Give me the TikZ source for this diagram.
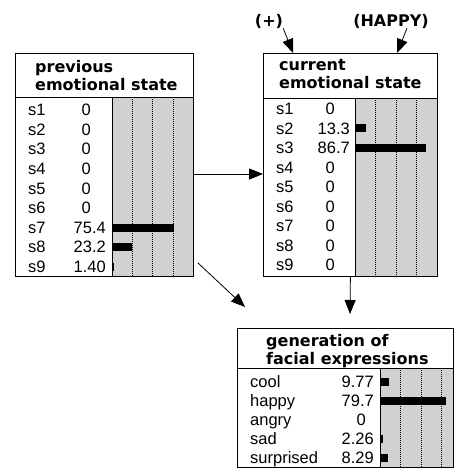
\documentclass[tikz,border=0pt]{standalone}
\usepackage{fontspec}
\setmainfont{Liberation Sans}
\newfontfamily\ttl{DejaVu Sans}
\usetikzlibrary{arrows.meta}
\begin{document}
\begin{tikzpicture}[x=1pt,y=-1pt,
  box/.style={draw, line width=0.8pt, fill=white, inner sep=0, anchor=north west},
  sep/.style={line width=0.8pt},
  grayarea/.style={fill=black!18, draw=black, line width=0.8pt},
  dot/.style={line width=0.5pt, dash pattern=on 1pt off 1pt},
  txt/.style={inner sep=0, text height=11.5pt, text depth=0pt, font=\fontsize{16.5}{16}\selectfont},
  ttltxt/.style={inner sep=0, anchor=base west, font=\ttl\bfseries\fontsize{16}{18}\selectfont},
  hdr/.style={inner sep=0, font=\ttl\bfseries\fontsize{16}{18}\selectfont},
  arr/.style={line width=0.8pt, -{Triangle[length=14pt,width=11pt]}},
  bar/.style={fill=black}
]
\useasboundingbox (0,0) rectangle (455,470);

% ---------- previous emotional state ----------
\node[box, minimum width=178pt, minimum height=223pt] (prev) at (15,53) {};
\draw[sep] (15,97) -- (193,97);
\filldraw[grayarea] (112,97) rectangle (193,276);
\foreach \xx in {132.25,152.5,172.75} \draw[dot] (\xx,97) -- (\xx,276);
\node[ttltxt] (pt1) at (35,73) {previous};
\node[ttltxt] (pt2) at (35,91) {emotional state};
\foreach \v/\p/\xe [count=\i] in {0/0/91,0/0/91,0/0/91,0/0/91,0/0/91,0/0/91,75.4/75.4/106,23.2/23.2/106,1.40/1.40/106}{
  \pgfmathsetmacro{\yy}{110+19.6*(\i-1)}
  \node[txt, anchor=west] (pl\i) at (28,\yy) {s\i};
  \node[txt, anchor=east] (pv\i) at (\xe,\yy) {\v};
  \pgfmathsetmacro{\ww}{max(\p*81/100,0)}
  \ifdim\ww pt>0pt \fill[bar] (112,\yy-4) rectangle ++(\ww+0.8,8); \fi
}

% ---------- current emotional state ----------
\node[box, minimum width=174pt, minimum height=223pt] (cur) at (263,53) {};
\draw[sep] (263,98) -- (437,98);
\filldraw[grayarea] (355,98) rectangle (437,276);
\foreach \xx in {375.5,396,416.5} \draw[dot] (\xx,98) -- (\xx,276);
\node[ttltxt] (ct1) at (279,71) {current};
\node[ttltxt] (ct2) at (279,89) {emotional state};
\foreach \v/\p/\xe [count=\i] in {0/0/335,13.3/13.3/350,86.7/86.7/350,0/0/335,0/0/335,0/0/335,0/0/335,0/0/335,0/0/335}{
  \pgfmathsetmacro{\yy}{109+19.5*(\i-1)}
  \node[txt, anchor=west] (cl\i) at (276,\yy) {s\i};
  \node[txt, anchor=east] (cv\i) at (\xe,\yy) {\v};
  \pgfmathsetmacro{\ww}{max(\p*82/100,0)}
  \ifdim\ww pt>0pt \fill[bar] (355,\yy-4) rectangle ++(\ww,8); \fi
}

% ---------- generation of facial expressions ----------
\node[box, minimum width=216pt, minimum height=139pt] (gen) at (237,328) {};
\draw[sep] (237,368) -- (453,368);
\filldraw[grayarea] (380,368) rectangle (453,467);
\foreach \xx in {400.5,421,441.5} \draw[dot] (\xx,368) -- (\xx,467);
\node[ttltxt] (gt1) at (266,346) {generation of};
\node[ttltxt] (gt2) at (266,364) {facial expressions};
\foreach \lab/\v/\p/\xe [count=\i] in {cool/9.77/9.77/374,happy/79.7/79.7/374,angry/0/0/366,sad/2.26/2.26/374,surprised/8.29/8.29/374}{
  \pgfmathsetmacro{\yy}{382+19*(\i-1)}
  \node[txt, anchor=west] (gl\i) at (250,\yy) {\lab};
  \node[txt, anchor=east] (gv\i) at (\xe,\yy) {\v};
  \pgfmathsetmacro{\ww}{max(\p*82/100,0)}
  \ifdim\ww pt>0pt \fill[bar] (380,\yy-4) rectangle ++(\ww+0.8,8); \fi
}

% ---------- evidence labels ----------
\node[hdr] (plus) at (269,21) {(+)};
\node[hdr] (happy) at (391,21) {(HAPPY)};
\coordinate (t1) at (293,53);
\coordinate (t2) at (397,53);
\draw[arr] (plus.south east) -- (t1);
\draw[arr] ([xshift=16pt]happy.south) -- (t2);

% ---------- connectors ----------
\draw[arr] (prev.east |- 0,174) -- (cur.west |- 0,174);
\coordinate (d1) at (245,307);
\draw[arr] ([xshift=4pt,yshift=14pt]prev.south east) -- (d1);
\coordinate (d2) at (350,314);
\draw[arr] (cur.south) -- (d2);
\end{tikzpicture}
\end{document}
